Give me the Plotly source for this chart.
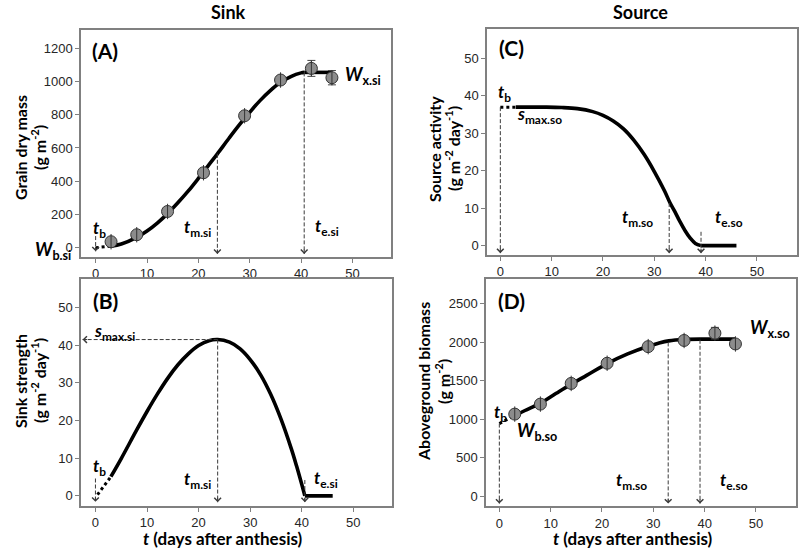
import plotly.graph_objects as go

W, H = 799, 548

# ---------------- data ----------------
t_obs = [3, 8, 14, 21, 29, 36, 42, 46]
grain_obs = [36, 78, 218, 451, 794, 1009, 1079, 1023]
grain_err = [8, 10, 15, 15, 15, 12, 48, 43]
biomass_obs = [1068, 1198, 1467, 1729, 1945, 2025, 2120, 1980]
biomass_err = [25, 25, 25, 30, 25, 25, 75, 45]

# key parameters
t_b = 0
t_m_si, t_e_si = 23.7, 40.6
W_b_si, W_x_si = 0, 1055
s_max_si = 41.5
t_m_so, t_e_so = 32.9, 39.1
s_max_so = 37
W_b_so, W_x_so = 945, 2042
t_end = 46
t_first = 3

# fitted curves
t_grain_fit = [3, 5, 8, 10, 12, 14, 16, 18, 20, 22, 23.7, 26, 28, 30, 32, 34, 36, 38, 40, 40.6]
grain_fit = [9, 22, 62, 100, 148, 205, 270, 340, 417, 497, 565, 660, 740, 815, 885, 945, 995, 1030, 1052, 1055]

t_sink_fit = [3, 5, 8, 10, 12, 14, 16, 18, 20, 22, 23.7, 26, 28, 30, 32, 34, 36, 38, 39, 40, 40.6]
sink_fit = [5.1, 9.9, 17.5, 22.4, 27.0, 31.2, 34.8, 37.7, 39.9, 41.2, 41.5, 40.8, 39.1, 36.2, 32.2, 26.9, 20.3, 12.4, 7.9, 3.1, 0]

t_source_fit = [3, 6, 9, 12, 15, 18, 20, 22, 24, 26, 28, 30, 32, 33, 34, 35, 36, 37, 38, 39.1]
source_fit = [37, 37, 37, 36.9, 36.6, 35.8, 34.8, 33.3, 31.2, 28.2, 24.4, 19.8, 14.6, 11.6, 9.1, 6.4, 4.0, 2.0, 0.6, 0]

t_biomass_fit = [3, 5, 8, 11, 14, 17, 21, 25, 29, 31, 33, 36, 39.1]
biomass_fit = [1050, 1115, 1210, 1335, 1458, 1572, 1725, 1850, 1950, 1990, 2020, 2038, 2042]

# ---------------- helpers ----------------
LABEL_FONT = "Lato, Open Sans, sans-serif"
TICK_FONT = "Liberation Sans, Arial, sans-serif"
DASH_COL = "#3a3a3a"


def px(x):
    return x / W


def py(y):
    return 1 - y / H


fig = go.Figure()
annotations = []


def curve(xa, ya, xs, ys, shape="spline"):
    fig.add_trace(go.Scatter(x=xs, y=ys, mode="lines", xaxis=xa, yaxis=ya,
                             line=dict(color="black", width=3.6, shape=shape),
                             hoverinfo="skip", showlegend=False))


def dotted(xa, ya, xs, ys):
    fig.add_trace(go.Scatter(x=xs, y=ys, mode="lines", xaxis=xa, yaxis=ya,
                             line=dict(color="black", width=3, dash="3px,3px"),
                             hoverinfo="skip", showlegend=False))


def dashed_arrow(xa, ya, x0, y0, x1, y1, horizontal=False):
    fig.add_trace(go.Scatter(x=[x0, x1], y=[y0, y1], mode="lines", xaxis=xa, yaxis=ya,
                             line=dict(color=DASH_COL, width=1, dash="4px,2px"),
                             hoverinfo="skip", showlegend=False))
    annotations.append(dict(x=x1, y=y1, xref=xa, yref=ya, text="", showarrow=True,
                            ax=(6 if horizontal else 0), ay=(0 if horizontal else -6),
                            arrowhead=4, arrowsize=1.3, arrowwidth=1, arrowcolor=DASH_COL))


def points(xa, ya, xs, ys, err):
    fig.add_trace(go.Scatter(x=xs, y=ys, mode="markers", xaxis=xa, yaxis=ya,
                             marker=dict(size=12, color="#8c8c8c", line=dict(color="#333333", width=1)),
                             error_y=dict(type="data", array=err, color="#444444", thickness=1, width=4),
                             hoverinfo="skip", showlegend=False))
    fig.add_trace(go.Scatter(x=xs, y=ys, mode="markers", xaxis=xa, yaxis=ya,
                             marker=dict(size=11, symbol="line-ns-open", color="#333333",
                                         line=dict(color="#333333", width=1)),
                             hoverinfo="skip", showlegend=False))


def lookup(ts, vs, t):
    return vs[ts.index(t)]


# ---------------- Panel A: grain dry mass ----------------
dotted("x", "y", [t_b, t_first], [W_b_si, grain_fit[0]])
curve("x", "y", t_grain_fit, grain_fit)
curve("x", "y", [t_e_si, t_end], [W_x_si, W_x_si], shape="linear")
dashed_arrow("x", "y", t_b, 70, t_b, -22)
dashed_arrow("x", "y", t_m_si, lookup(t_grain_fit, grain_fit, t_m_si), t_m_si, -38)
dashed_arrow("x", "y", t_e_si, W_x_si, t_e_si, -38)
points("x", "y", t_obs, grain_obs, grain_err)

# ---------------- Panel B: sink strength ----------------
dotted("x3", "y3", [t_b + 0.4, t_first], [0.3, sink_fit[0]])
curve("x3", "y3", t_sink_fit, sink_fit)
curve("x3", "y3", [t_e_si, t_end], [0, 0], shape="linear")
dashed_arrow("x3", "y3", t_m_si, s_max_si, -2.5, s_max_si, horizontal=True)
dashed_arrow("x3", "y3", t_b, 4.6, t_b, -1.6)
dashed_arrow("x3", "y3", t_m_si, s_max_si, t_m_si, -1.7)
dashed_arrow("x3", "y3", t_e_si, 4.2, t_e_si, -1.7)

# ---------------- Panel C: source activity ----------------
dotted("x2", "y2", [t_b, t_first], [s_max_so, s_max_so])
curve("x2", "y2", t_source_fit, source_fit)
curve("x2", "y2", [t_e_so, t_end], [0, 0], shape="linear")
dashed_arrow("x2", "y2", t_b, s_max_so, t_b, -2.0)
dashed_arrow("x2", "y2", t_m_so, lookup(t_source_fit, source_fit, 33) - 0.2, t_m_so, -2.0)
dashed_arrow("x2", "y2", t_e_so, 3.7, t_e_so, -2.0)

# ---------------- Panel D: aboveground biomass ----------------
dotted("x4", "y4", [t_b, t_first], [W_b_so, biomass_fit[0]])
curve("x4", "y4", t_biomass_fit, biomass_fit)
curve("x4", "y4", [t_e_so, t_end], [W_x_so, W_x_so], shape="linear")
dashed_arrow("x4", "y4", t_b, W_b_so, t_b, -95)
dashed_arrow("x4", "y4", t_m_so, 2000, t_m_so, -95)
dashed_arrow("x4", "y4", t_e_so, 2034, t_e_so, -95)
points("x4", "y4", t_obs, biomass_obs, biomass_err)


# ---------------- text ----------------
def txt(x, y, s, size=17, xanchor="center", angle=0, color="black"):
    annotations.append(dict(x=px(x), y=py(y), xref="paper", yref="paper", text=s,
                            showarrow=False, xanchor=xanchor, yanchor="middle",
                            textangle=angle, font=dict(family=LABEL_FONT, size=size, color=color)))


def sym(main, sub):
    return f"<b><i>{main}</i><sub>{sub}</sub></b>"


# column titles
txt(228, 12, "<b>Sink</b>", 18)
txt(640, 12, "<b>Source</b>", 18)

# panel letters
txt(105, 50, "<b>(A)</b>", 21)
txt(105, 300, "<b>(B)</b>", 21)
txt(511, 47, "<b>(C)</b>", 21)
txt(511, 300, "<b>(D)</b>", 21)

# y titles (two lines each)
txt(20, 148, "<b>Grain dry mass</b>", 16, angle=-90)
txt(38, 148, "<b>(g m<sup>-2</sup>)</b>", 16, angle=-90)
txt(20, 381, "<b>Sink strength</b>", 16, angle=-90)
txt(38, 381, "<b>(g m<sup>-2</sup> day<sup>-1</sup>)</b>", 16, angle=-90)
txt(435, 149, "<b>Source activity</b>", 16, angle=-90)
txt(453, 149, "<b>(g m<sup>-2</sup> day<sup>-1</sup>)</b>", 16, angle=-90)
txt(423, 382, "<b>Aboveground biomass</b>", 16, angle=-90)
txt(442, 382, "<b>(g m<sup>-2</sup>)</b>", 16, angle=-90)

# x titles
txt(223, 538, "<b><i>t</i> (days after anthesis)</b>", 17)
txt(633, 538, "<b><i>t</i> (days after anthesis)</b>", 17)

# symbol labels A
txt(99, 229, sym("t", "b"))
txt(73, 250, sym("W", "b.si"), 18, xanchor="right")
txt(197, 228, sym("t", "m.si"))
txt(327, 227, sym("t", "e.si"))
txt(343, 76, sym("W", "x.si"), 18, xanchor="left")
# B
txt(92, 332, sym("s", "max.si"), xanchor="left")
txt(99, 467, sym("t", "b"))
txt(197, 480, sym("t", "m.si"))
txt(326, 479, sym("t", "e.si"))
# C
txt(504, 93, sym("t", "b"))
txt(515, 115, sym("s", "max.so"), xanchor="left")
txt(637, 218, sym("t", "m.so"))
txt(729, 218, sym("t", "e.so"))
# D
txt(500, 413, sym("t", "b"))
txt(515, 431, sym("W", "b.so"), 18, xanchor="left")
txt(631, 481, sym("t", "m.so"))
txt(734, 481, sym("t", "e.so"))
txt(748, 328, sym("W", "x.so"), 18, xanchor="left")

# ---------------- axes ----------------
axis_common = dict(showline=True, linecolor="#808080", linewidth=1.5, mirror=True,
                   ticks="outside", ticklen=4, tickcolor="#808080", tickwidth=1,
                   showgrid=False, zeroline=False, fixedrange=True,
                   tickfont=dict(family=TICK_FONT, size=13, color="#262626"))

x_ticks = [0, 10, 20, 30, 40, 50]

fig.update_layout(
    width=W, height=H, margin=dict(l=0, r=0, t=0, b=0),
    paper_bgcolor="white", plot_bgcolor="white", showlegend=False,
    xaxis=dict(axis_common, domain=[px(81), px(391)], range=[-2.85, 57.5], tickvals=x_ticks, anchor="y"),
    yaxis=dict(axis_common, domain=[py(257), py(30)], range=[-56, 1310], tickvals=[0, 200, 400, 600, 800, 1000, 1200], anchor="x"),
    xaxis2=dict(axis_common, domain=[px(487), px(797)], range=[-2.6, 57.8], tickvals=x_ticks, anchor="y2"),
    yaxis2=dict(axis_common, domain=[py(255), py(29.3)], range=[-2.5, 57.8], tickvals=[0, 10, 20, 30, 40, 50], anchor="x2"),
    xaxis3=dict(axis_common, domain=[px(81), px(392)], range=[-2.8, 57.5], tickvals=x_ticks, anchor="y3"),
    yaxis3=dict(axis_common, domain=[py(506), py(279.3)], range=[-2.7, 57.5], tickvals=[0, 10, 20, 30, 40, 50], anchor="x3"),
    xaxis4=dict(axis_common, domain=[px(486), px(796)], range=[-2.6, 57.8], tickvals=x_ticks, anchor="y4"),
    yaxis4=dict(axis_common, domain=[py(506.3), py(279.3)], range=[-130, 2820], tickvals=[0, 500, 1000, 1500, 2000, 2500], anchor="x4"),
    annotations=annotations,
)

fig.write_html("out.html", config={"displayModeBar": False},
               post_script="document.body.style.margin='0px';document.body.style.padding='0px';")
